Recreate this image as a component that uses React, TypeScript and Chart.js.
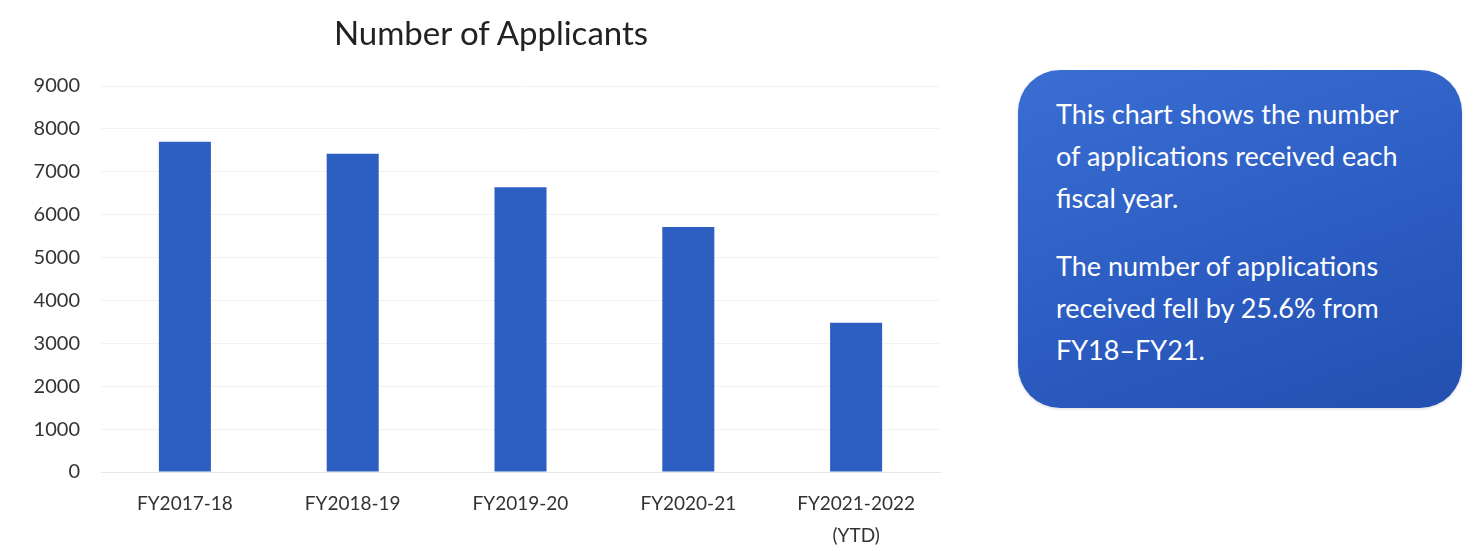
import React, { useEffect, useRef } from "react";
import { Chart, registerables } from "chart.js";

Chart.register(...registerables);

const categories: (string | string[])[] = [
  "FY2017-18",
  "FY2018-19",
  "FY2019-20",
  "FY2020-21",
  ["FY2021-2022", "(YTD)"],
];
const applicants: number[] = [7700, 7420, 6640, 5710, 3480];
const yTicks: number[] = [0, 1000, 2000, 3000, 4000, 5000, 6000, 7000, 8000, 9000];
const titleText = "Number of Applicants";
const noteParagraphs: string[][] = [
  ["This chart shows the number", "of applications received each", "fiscal year."],
  ["The number of applications", "received fell by 25.6% from", "FY18\u2013FY21."],
];

const FONT = "Lato, 'Open Sans', sans-serif";

export default function App() {
  const ref = useRef<HTMLCanvasElement | null>(null);

  useEffect(() => {
    if (!ref.current) return;
    const chart = new Chart(ref.current, {
      type: "bar",
      data: {
        labels: categories,
        datasets: [
          {
            label: "Applicants",
            data: applicants,
            backgroundColor: "#2d5ec2",
            borderWidth: 0,
            categoryPercentage: 1,
            barPercentage: 0.31,
          },
        ],
      },
      options: {
        animation: false,
        responsive: false,
        maintainAspectRatio: false,
        layout: { padding: { left: 0, right: 20, top: 86, bottom: 0 } },
        plugins: {
          legend: { display: false },
          tooltip: { enabled: false },
          title: { display: false },
        },
        scales: {
          x: {
            grid: { display: false },
            border: { display: true, color: "#e6e6e6" },
            ticks: {
              color: "#333",
              font: { family: FONT, size: 19, lineHeight: 1.68 },
              maxRotation: 0,
              padding: 8,
            },
            afterFit: (s: any) => {
              s.height = 84;
            },
          },
          y: {
            min: 0,
            max: 9000,
            afterBuildTicks: (s: any) => {
              s.ticks = yTicks.map((v) => ({ value: v }));
            },
            grid: { color: "#f2f2f2", drawTicks: false },
            border: { display: false },
            ticks: {
              color: "#333",
              font: { family: FONT, size: 20 },
              padding: 21,
              callback: (v: any) => String(v),
            },
            afterFit: (s: any) => {
              s.width = 101;
            },
          },
        },
      },
    });
    return () => chart.destroy();
  }, []);

  return (
    <div
      style={{
        position: "fixed",
        left: 0,
        top: 0,
        width: 1464,
        height: 556,
        background: "#fff",
        overflow: "hidden",
      }}
    >
      <div style={{ position: "absolute", left: 0, top: 0, width: 960, height: 556 }}>
        <canvas ref={ref} width={960} height={556} style={{ width: 960, height: 556 }} />
      </div>
      <div
        style={{
          position: "absolute",
          left: 291,
          top: 12,
          width: 400,
          textAlign: "center",
          fontFamily: FONT,
          fontSize: 33,
          lineHeight: "40px",
          color: "#222",
          whiteSpace: "nowrap",
        }}
      >
        {titleText}
      </div>
      <div
        style={{
          position: "absolute",
          left: 1018,
          top: 70,
          width: 444,
          height: 338,
          borderRadius: 42,
          background: "linear-gradient(160deg, #3a6ed3 0%, #2d5ec4 50%, #2350b0 100%)",
          boxShadow: "0 1px 3px rgba(0,0,0,0.15)",
          boxSizing: "border-box",
          padding: "23px 10px 0 38px",
          color: "#fff",
          fontFamily: FONT,
          fontSize: 27,
          lineHeight: "42px",
        }}
      >
        {noteParagraphs.map((p, i) => (
          <div key={i} style={{ marginBottom: i === 0 ? 26 : 0 }}>
            {p.map((line, j) => (
              <div key={j} style={{ whiteSpace: "nowrap" }}>
                {line}
              </div>
            ))}
          </div>
        ))}
      </div>
    </div>
  );
}
